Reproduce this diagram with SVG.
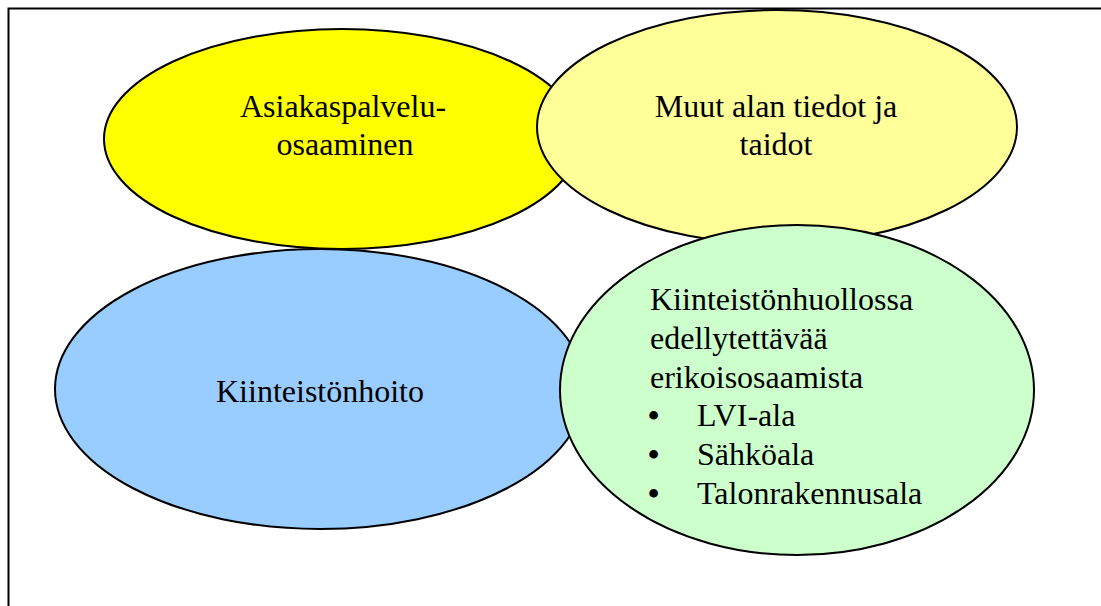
<svg xmlns="http://www.w3.org/2000/svg" width="1101" height="606" viewBox="0 0 1101 606">
<style>
.e{stroke:#000;stroke-width:2}
.t{font-family:"Liberation Serif","Times New Roman",serif;font-size:32px;fill:#000}
.c{text-anchor:middle}
</style>
<rect width="1101" height="606" fill="#fff"/>
<g id="frame" fill="none" stroke="#000" stroke-width="2">
<path d="M8.5 606 V8.5 H1101"/>
</g>
<g id="connectors"></g>
<g id="kiinteistonhoito">
<ellipse class="e" cx="320" cy="389" rx="265" ry="140" fill="#99CCFF"/>
<text class="t c" x="320" y="402">Kiinteistönhoito</text>
</g>
<g id="asiakaspalvelu">
<ellipse class="e" cx="342" cy="139" rx="238" ry="110" fill="#FFFF00"/>
<text class="t c" x="343" y="117">Asiakaspalvelu-</text>
<text class="t c" x="345" y="155">osaaminen</text>
</g>
<g id="muut">
<ellipse class="e" cx="777" cy="127" rx="240" ry="117" fill="#FFFF99"/>
<text class="t c" x="776" y="117">Muut alan tiedot ja</text>
<text class="t c" x="776" y="155">taidot</text>
</g>
<g id="erikois">
<ellipse class="e" cx="797" cy="390" rx="237" ry="165" fill="#CCFFCC"/>
<text class="t" x="650" y="310">Kiinteistönhuollossa</text>
<text class="t" x="650" y="349">edellytettävää</text>
<text class="t" x="650" y="388">erikoisosaamista</text>
<text class="t" x="648" y="426"><tspan font-weight="bold">•</tspan><tspan x="697">LVI-ala</tspan></text>
<text class="t" x="648" y="465"><tspan font-weight="bold">•</tspan><tspan x="697">Sähköala</tspan></text>
<text class="t" x="648" y="504"><tspan font-weight="bold">•</tspan><tspan x="697">Talonrakennusala</tspan></text>
</g>
</svg>
